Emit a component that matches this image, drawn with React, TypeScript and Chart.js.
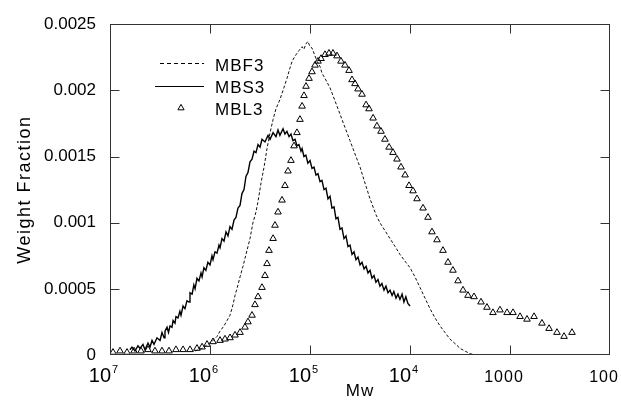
import React, { useEffect, useRef } from "react";
import { Chart, registerables } from "chart.js";

Chart.register(...registerables);

// ---------- data ----------
const seriesNames = ["MBF3", "MBS3", "MBL3"];

const mbf3Mw = [
  1.41e6, 1.2e6, 1.05e6, 9.33e5, 8.51e5, 7.94e5, 7.24e5, 6.76e5, 6.31e5, 5.89e5,
  5.62e5, 5.25e5, 5.01e5, 4.68e5, 4.47e5, 4.17e5, 3.98e5, 3.72e5, 3.47e5, 3.31e5,
  3.09e5, 2.88e5, 2.69e5, 2.51e5, 2.34e5, 2.19e5, 2.0e5, 1.86e5, 1.7e5, 1.585e5,
  1.51e5, 1.41e5, 1.29e5, 1.2e5, 1.15e5, 1.1e5, 1.05e5, 1.0e5, 9.55e4, 8.91e4,
  8.51e4, 7.94e4, 7.59e4, 7.08e4, 6.31e4, 5.62e4, 5.01e4, 4.47e4, 3.98e4, 3.47e4,
  3.16e4, 2.82e4, 2.51e4, 2.19e4, 2.0e4, 1.78e4, 1.585e4, 1.41e4, 1.26e4, 1.1e4,
  1.0e4, 8.91e3, 7.94e3, 7.08e3, 6.31e3, 5.62e3, 5.01e3, 4.47e3, 3.98e3, 3.47e3,
  3.16e3, 2.82e3, 2.51e3, 2.19e3,
];
const mbf3Wf = [
  0.00003, 0.00005, 0.00008, 0.00011, 0.00014, 0.00018, 0.00022, 0.00026, 0.0003, 0.00038,
  0.00045, 0.00053, 0.00059, 0.00067, 0.00073, 0.00082, 0.00088, 0.001, 0.00108, 0.00116,
  0.0013, 0.00142, 0.00156, 0.00168, 0.00178, 0.00186, 0.00193, 0.002, 0.00209, 0.00217,
  0.00222, 0.00226, 0.0023, 0.00233, 0.00231, 0.00235, 0.00237, 0.00233, 0.00232, 0.00226,
  0.00222, 0.00218, 0.00213, 0.00209, 0.00202, 0.00192, 0.00182, 0.00172, 0.00162, 0.0015,
  0.00142, 0.0013, 0.00118, 0.00106, 0.001, 0.00094, 0.00088, 0.00082, 0.00076, 0.0007,
  0.00066, 0.00059, 0.00051, 0.00043, 0.00035, 0.00028, 0.00022, 0.00017, 0.00012, 0.00008,
  0.00005, 0.00003, 0.00001, 0.0,
];

const mbs3Mw = [
  6.31e6, 6.03e6, 5.62e6, 5.25e6, 5.01e6, 4.68e6, 4.47e6, 4.17e6, 3.98e6, 3.8e6,
  3.63e6, 3.39e6, 3.16e6, 3.02e6, 2.88e6, 2.82e6, 2.69e6, 2.6e6, 2.51e6, 2.4e6,
  2.34e6, 2.24e6, 2.19e6, 2.09e6, 2.0e6, 1.95e6, 1.86e6, 1.78e6, 1.7e6, 1.62e6,
  1.585e6, 1.51e6, 1.45e6, 1.41e6, 1.35e6, 1.29e6, 1.23e6, 1.2e6, 1.15e6, 1.1e6,
  1.05e6, 1.0e6, 9.55e5, 9.33e5, 8.91e5, 8.51e5, 8.13e5, 7.94e5, 7.59e5, 7.24e5,
  6.92e5, 6.61e5, 6.31e5, 6.03e5, 5.75e5, 5.5e5, 5.25e5, 5.01e5, 4.79e5, 4.57e5,
  4.37e5, 4.17e5, 3.98e5, 3.8e5, 3.63e5, 3.47e5, 3.31e5, 3.16e5, 3.02e5, 2.82e5,
  2.63e5, 2.51e5, 2.34e5, 2.19e5, 2.09e5, 2.0e5, 1.86e5, 1.78e5, 1.7e5, 1.62e5,
  1.55e5, 1.48e5, 1.41e5, 1.35e5, 1.29e5, 1.23e5, 1.2e5, 1.15e5, 1.1e5, 1.05e5,
  1.0e5, 9.55e4, 9.12e4, 8.71e4, 8.32e4, 7.94e4, 7.59e4, 7.24e4, 6.92e4, 6.61e4,
  6.31e4, 6.03e4, 5.75e4, 5.5e4, 5.25e4, 5.01e4, 4.79e4, 4.57e4, 4.37e4, 4.17e4,
  3.98e4, 3.8e4, 3.63e4, 3.47e4, 3.31e4, 3.16e4, 3.02e4, 2.88e4, 2.75e4, 2.63e4,
  2.51e4, 2.4e4, 2.29e4, 2.19e4, 2.09e4, 2.0e4, 1.91e4, 1.82e4, 1.74e4, 1.66e4,
  1.585e4, 1.51e4, 1.45e4, 1.38e4, 1.32e4, 1.26e4, 1.2e4, 1.15e4, 1.1e4, 1.05e4,
  1.0e4,
];
const mbs3Wf = [
  0.00004, 0.00006, 0.00003, 0.00007, 0.00005, 0.00008, 0.00004, 0.00009, 0.00006, 0.00011,
  0.00008, 0.00013, 0.00011, 0.00017, 0.00013, 0.00018, 0.00021, 0.00017, 0.00022, 0.00021,
  0.00026, 0.00024, 0.00029, 0.00028, 0.00033, 0.0003, 0.00037, 0.00035, 0.00041, 0.0004,
  0.00047, 0.00046, 0.00053, 0.0005, 0.00058, 0.00056, 0.00062, 0.00059, 0.00066, 0.00064,
  0.0007, 0.00068, 0.00075, 0.00072, 0.00078, 0.00077, 0.00083, 0.00081, 0.00088, 0.00086,
  0.00093, 0.0009, 0.00097, 0.00095, 0.00102, 0.00104, 0.00111, 0.00113, 0.00122, 0.00125,
  0.00135, 0.00138, 0.00146, 0.00148, 0.00154, 0.00153, 0.00159, 0.00157, 0.00163, 0.00161,
  0.00166, 0.00163, 0.00168, 0.00165, 0.0017, 0.00166, 0.00171, 0.00167, 0.00169, 0.00165,
  0.00167, 0.00162, 0.00163, 0.00158, 0.00159, 0.00154, 0.00156, 0.0015, 0.00151, 0.00145,
  0.00147, 0.00141, 0.00142, 0.00136, 0.00137, 0.00131, 0.00132, 0.00125, 0.00126, 0.00118,
  0.0012, 0.00111, 0.00112, 0.00103, 0.00104, 0.00095, 0.00096, 0.00088, 0.0009, 0.00082,
  0.00083, 0.00076, 0.00078, 0.00072, 0.00074, 0.00068, 0.0007, 0.00065, 0.00067, 0.00062,
  0.00064, 0.00058, 0.0006, 0.00055, 0.00057, 0.00052, 0.00054, 0.00049, 0.00052, 0.00047,
  0.00049, 0.00045, 0.00048, 0.00043, 0.00046, 0.00042, 0.00046, 0.0004, 0.00044, 0.00039,
  0.00037,
];

const mbl3Mw = [
  9.33e6, 7.94e6, 6.76e6, 5.75e6, 4.9e6, 4.17e6, 3.55e6, 3.02e6, 2.57e6, 2.19e6,
  1.86e6, 1.585e6, 1.35e6, 1.2e6, 1.07e6, 9.33e5, 7.94e5, 7.08e5, 6.31e5, 5.62e5,
  5.01e5, 4.47e5, 4.17e5, 3.8e5, 3.55e5, 3.31e5, 3.02e5, 2.82e5, 2.69e5, 2.57e5,
  2.34e5, 2.24e5, 2.09e5, 1.905e5, 1.78e5, 1.66e5, 1.55e5, 1.445e5, 1.35e5, 1.26e5,
  1.2e5, 1.148e5, 1.096e5, 1.023e5, 9.55e4, 8.91e4, 8.32e4, 7.76e4, 7.08e4, 6.46e4,
  5.89e4, 5.37e4, 4.9e4, 4.47e4, 4.07e4, 3.8e4, 3.55e4, 3.31e4, 3.02e4, 2.75e4,
  2.57e4, 2.34e4, 2.14e4, 1.95e4, 1.78e4, 1.62e4, 1.48e4, 1.35e4, 1.23e4, 1.12e4,
  1.023e4, 9.33e3, 8.51e3, 7.41e3, 6.61e3, 6.03e3, 5.37e3, 4.68e3, 4.17e3, 3.72e3,
  3.31e3, 2.95e3, 2.63e3, 2.29e3, 1.95e3, 1.7e3, 1.48e3, 1.26e3, 1.07e3, 933,
  794, 676, 575, 479, 407, 339, 288, 240,
];
const mbl3Wf = [
  0.00002, 0.00003, 0.00002, 0.00003, 0.00003, 0.00004, 0.00003, 0.00003, 0.00003, 0.00004,
  0.00004, 0.00004, 0.00005, 0.00006, 0.00008, 0.0001, 0.00011, 0.00012, 0.00013, 0.00015,
  0.00017, 0.00021, 0.00025, 0.0003, 0.00038, 0.00044, 0.00051, 0.0006, 0.00069, 0.00079,
  0.00088, 0.00098, 0.00108, 0.00117, 0.00128, 0.00139, 0.00147, 0.00158, 0.00168, 0.00178,
  0.00188, 0.00196, 0.00203, 0.00209, 0.00214, 0.00219, 0.00222, 0.00224, 0.00227, 0.00228,
  0.00228, 0.00226, 0.00222, 0.00219, 0.00215, 0.00208, 0.00205, 0.00201, 0.00197, 0.00189,
  0.00186, 0.00179, 0.00173, 0.00169, 0.00163, 0.00157, 0.00153, 0.00148, 0.00142, 0.00136,
  0.00128, 0.00124, 0.00118, 0.00111, 0.00104, 0.00093, 0.00087, 0.00079, 0.0007, 0.00064,
  0.00056, 0.00049, 0.00045, 0.00044, 0.0004, 0.00036, 0.00032, 0.00034, 0.00032, 0.00032,
  0.00029, 0.00027, 0.00029, 0.00024, 0.0002, 0.00017, 0.00014, 0.00017,
];

const xTicks = [1e7, 1e6, 1e5, 1e4, 1000, 100];
const xTickBase = ["10", "10", "10", "10", "1000", "100"];
const xTickExp = ["7", "6", "5", "4", "", ""];
const yTicks = [0, 0.0005, 0.001, 0.0015, 0.002, 0.0025];
const yTickLabels = ["0", "0.0005", "0.001", "0.0015", "0.002", "0.0025"];
const xTitle = "Mw";
const yTitle = "Weight Fraction";

const FONT = "'Liberation Sans', Arial, Helvetica, sans-serif";

const pts = (xs: number[], ys: number[]) => xs.map((x, i) => ({ x, y: ys[i] }));

const decorPlugin = {
  id: "decor",
  afterDraw(chart: any) {
    const { ctx, chartArea: a, scales } = chart;
    const xs = scales.x;
    const ys = scales.y;
    ctx.save();
    ctx.strokeStyle = "#333";
    ctx.lineWidth = 1;
    ctx.setLineDash([]);
    const L = Math.round(a.left) + 0.5;
    const R = Math.round(a.right) - 0.5;
    const T = Math.round(a.top) + 0.5;
    const B = Math.round(a.bottom) - 0.5;
    ctx.strokeRect(L, T, R - L, B - T);
    ctx.beginPath();
    xTicks.forEach((v, i) => {
      if (i === 0 || i === xTicks.length - 1) return;
      const px = Math.round(xs.getPixelForValue(v)) + 0.5;
      ctx.moveTo(px, B);
      ctx.lineTo(px, B - 9);
      ctx.moveTo(px, T);
      ctx.lineTo(px, T + 9);
    });
    yTicks.forEach((v, i) => {
      if (i === 0 || i === yTicks.length - 1) return;
      const py = Math.round(ys.getPixelForValue(v)) + 0.5;
      ctx.moveTo(L, py);
      ctx.lineTo(L + 9, py);
      ctx.moveTo(R, py);
      ctx.lineTo(R - 9, py);
    });
    ctx.stroke();

    // x tick labels
    ctx.fillStyle = "#000";
    ctx.textBaseline = "alphabetic";
    const base = a.bottom + 27;
    xTicks.forEach((v, i) => {
      const px = xs.getPixelForValue(v);
      if (xTickExp[i]) {
        (ctx as any).letterSpacing = "0px";
        ctx.font = `20px ${FONT}`;
        ctx.textAlign = "right";
        ctx.fillText(xTickBase[i], px + 1, base);
        ctx.font = `11px ${FONT}`;
        ctx.textAlign = "left";
        ctx.fillText(xTickExp[i], px + 2, base - 9);
      } else {
        (ctx as any).letterSpacing = "1px";
        ctx.font = `16px ${FONT}`;
        ctx.textAlign = "center";
        ctx.fillText(xTickBase[i], px - 6, base);
      }
    });

    // axis titles
    (ctx as any).letterSpacing = "1px";
    ctx.font = `17px ${FONT}`;
    ctx.textAlign = "center";
    ctx.fillText(xTitle, (a.left + a.right) / 2, 396);

    ctx.save();
    (ctx as any).letterSpacing = "1.5px";
    ctx.translate(30, (a.top + a.bottom) / 2);
    ctx.rotate(-Math.PI / 2);
    ctx.font = `18px ${FONT}`;
    ctx.textAlign = "center";
    ctx.fillText(yTitle, 0, 0);
    ctx.restore();

    // legend
    (ctx as any).letterSpacing = "1px";
    ctx.font = `17px ${FONT}`;
    ctx.textAlign = "left";
    const rows = [71, 93, 115];
    seriesNames.forEach((n, i) => ctx.fillText(n, 215, rows[i]));
    ctx.strokeStyle = "#000";
    ctx.lineWidth = 1;
    ctx.beginPath();
    ctx.setLineDash([4, 3]);
    ctx.moveTo(160, 63.5);
    ctx.lineTo(204, 63.5);
    ctx.stroke();
    ctx.setLineDash([]);
    ctx.beginPath();
    ctx.moveTo(155, 86.5);
    ctx.lineTo(204, 86.5);
    ctx.stroke();
    const r = 3.6;
    const cx = 181;
    const cy = 108;
    ctx.beginPath();
    ctx.moveTo(cx, cy - r);
    ctx.lineTo(cx + r * 0.866, cy + r * 0.5);
    ctx.lineTo(cx - r * 0.866, cy + r * 0.5);
    ctx.closePath();
    ctx.stroke();
    (ctx as any).letterSpacing = "0px";
    ctx.restore();
  },
};

export default function App() {
  const ref = useRef<HTMLCanvasElement | null>(null);
  useEffect(() => {
    document.body.style.margin = "0";
    if (!ref.current) return;
    const chart = new Chart(ref.current, {
      type: "scatter",
      data: {
        datasets: [
          {
            label: seriesNames[0],
            data: pts(mbf3Mw, mbf3Wf),
            showLine: true,
            borderColor: "#111",
            borderWidth: 1,
            borderDash: [3, 2],
            pointRadius: 0,
            tension: 0,
          },
          {
            label: seriesNames[1],
            data: pts(mbs3Mw, mbs3Wf),
            showLine: true,
            borderColor: "#000",
            borderWidth: 1.4,
            pointRadius: 0,
            tension: 0,
          },
          {
            label: seriesNames[2],
            data: pts(mbl3Mw, mbl3Wf),
            showLine: false,
            pointStyle: "triangle",
            pointRadius: 3.8,
            pointBorderWidth: 1,
            borderColor: "#000",
            backgroundColor: "rgba(255,255,255,0)",
          },
        ],
      },
      options: {
        animation: false,
        responsive: false,
        devicePixelRatio: 1,
        layout: { padding: { top: 23, right: 11, left: 0, bottom: 0 } },
        plugins: { legend: { display: false }, tooltip: { enabled: false } },
        scales: {
          x: {
            type: "logarithmic",
            reverse: true,
            min: 100,
            max: 1e7,
            grid: { display: false, drawTicks: false },
            border: { display: false },
            ticks: { display: false },
            afterBuildTicks: (s: any) => {
              s.ticks = xTicks.map((v) => ({ value: v }));
            },
            afterFit: (s: any) => {
              s.height = 49;
            },
          },
          y: {
            type: "linear",
            min: 0,
            max: 0.0025,
            grid: { display: false, drawTicks: false },
            border: { display: false },
            afterBuildTicks: (s: any) => {
              s.ticks = yTicks.map((v) => ({ value: v }));
            },
            ticks: {
              padding: 14,
              color: "#000",
              font: { family: FONT, size: 17 },
              callback: (_v: any, i: number) => yTickLabels[i],
            },
            afterFit: (s: any) => {
              s.width = 110;
            },
          },
        },
      },
      plugins: [decorPlugin],
    });
    return () => chart.destroy();
  }, []);
  return (
    <div style={{ width: 621, height: 404, background: "#fff" }}>
      <canvas ref={ref} width={621} height={404} style={{ display: "block" }} />
    </div>
  );
}
